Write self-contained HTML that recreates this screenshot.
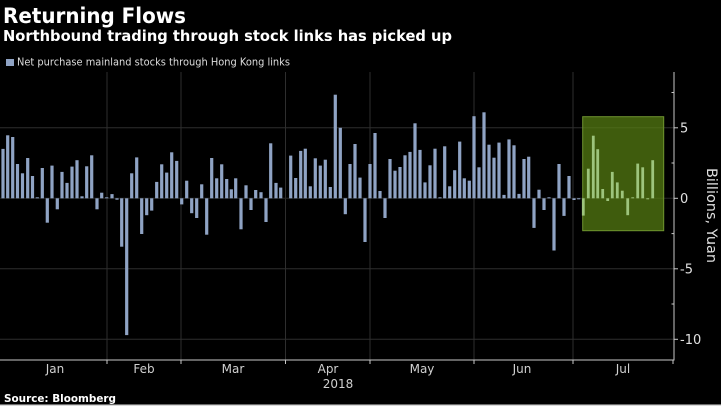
<!DOCTYPE html>
<html><head><meta charset="utf-8"><style>
html,body{margin:0;padding:0;background:#000;}
svg{display:block;}
</style></head><body>
<svg width="721" height="406" viewBox="0 0 721 406" xmlns="http://www.w3.org/2000/svg">
<rect x="0" y="0" width="721" height="406" fill="#000"/>
<text x="3" y="23" font-family="DejaVu Sans, Liberation Sans, sans-serif" font-weight="bold" font-size="21" fill="#fff" textLength="183" lengthAdjust="spacingAndGlyphs">Returning Flows</text>
<text x="3" y="41" font-family="DejaVu Sans, Liberation Sans, sans-serif" font-weight="bold" font-size="15" fill="#fff" textLength="449" lengthAdjust="spacingAndGlyphs">Northbound trading through stock links has picked up</text>
<rect x="6" y="59" width="8" height="7" fill="#8fa3c4"/>
<text x="17" y="65.7" font-family="DejaVu Sans, Liberation Sans, sans-serif" font-size="10.5" fill="#ddd" textLength="273" lengthAdjust="spacingAndGlyphs">Net purchase mainland stocks through Hong Kong links</text>
<g stroke="#2e2e2e" stroke-width="1">
<line x1="0" y1="127.8" x2="674" y2="127.8"/>
<line x1="0" y1="268.8" x2="674" y2="268.8"/>
<line x1="0" y1="339.3" x2="674" y2="339.3"/>
<line x1="107" y1="72" x2="107" y2="360"/>
<line x1="181" y1="72" x2="181" y2="360"/>
<line x1="285.5" y1="72" x2="285.5" y2="360"/>
<line x1="370" y1="72" x2="370" y2="360"/>
<line x1="474" y1="72" x2="474" y2="360"/>
<line x1="573" y1="72" x2="573" y2="360"/>
</g>
<line x1="0" y1="198.3" x2="674" y2="198.3" stroke="#262626" stroke-width="1"/>
<g fill="#8fa3c4">
<rect x="1.4" y="148.9" width="3.2" height="49.4"/>
<rect x="6.1" y="135.3" width="3.2" height="63.0"/>
<rect x="11.1" y="137.0" width="3.2" height="61.3"/>
<rect x="15.9" y="164.0" width="3.2" height="34.3"/>
<rect x="20.9" y="173.3" width="3.2" height="25.0"/>
<rect x="26.1" y="158.0" width="3.2" height="40.3"/>
<rect x="30.9" y="176.0" width="3.2" height="22.3"/>
<rect x="35.7" y="197.3" width="3.2" height="1"/>
<rect x="40.7" y="168.0" width="3.2" height="30.3"/>
<rect x="45.7" y="198.3" width="3.2" height="24.4"/>
<rect x="50.4" y="165.6" width="3.2" height="32.7"/>
<rect x="55.7" y="198.3" width="3.2" height="11.0"/>
<rect x="60.4" y="171.9" width="3.2" height="26.4"/>
<rect x="65.4" y="182.9" width="3.2" height="15.4"/>
<rect x="70.4" y="166.6" width="3.2" height="31.7"/>
<rect x="75.4" y="160.2" width="3.2" height="38.1"/>
<rect x="80.4" y="196.3" width="3.2" height="2.0"/>
<rect x="85.1" y="166.3" width="3.2" height="32.0"/>
<rect x="90.1" y="155.3" width="3.2" height="43.0"/>
<rect x="95.4" y="198.3" width="3.2" height="11.0"/>
<rect x="100.1" y="192.7" width="3.2" height="5.6"/>
<rect x="105.1" y="197.3" width="3.2" height="1"/>
<rect x="110.4" y="194.1" width="3.2" height="4.2"/>
<rect x="115.4" y="198.3" width="3.2" height="1.4"/>
<rect x="120.1" y="198.3" width="3.2" height="48.4"/>
<rect x="125.1" y="198.3" width="3.2" height="136.8"/>
<rect x="130.1" y="173.3" width="3.2" height="25.0"/>
<rect x="135.1" y="157.4" width="3.2" height="40.9"/>
<rect x="140.1" y="198.3" width="3.2" height="35.7"/>
<rect x="145.1" y="198.3" width="3.2" height="16.9"/>
<rect x="150.1" y="198.3" width="3.2" height="12.3"/>
<rect x="155.1" y="181.9" width="3.2" height="16.4"/>
<rect x="160.1" y="164.3" width="3.2" height="34.0"/>
<rect x="165.1" y="172.6" width="3.2" height="25.7"/>
<rect x="170.1" y="152.3" width="3.2" height="46.0"/>
<rect x="175.1" y="160.9" width="3.2" height="37.4"/>
<rect x="180.1" y="198.3" width="3.2" height="6.1"/>
<rect x="185.1" y="180.7" width="3.2" height="17.6"/>
<rect x="190.1" y="198.3" width="3.2" height="14.9"/>
<rect x="195.1" y="198.3" width="3.2" height="19.7"/>
<rect x="200.1" y="184.3" width="3.2" height="14.0"/>
<rect x="205.1" y="198.3" width="3.2" height="36.4"/>
<rect x="210.1" y="158.0" width="3.2" height="40.3"/>
<rect x="215.1" y="178.3" width="3.2" height="20.0"/>
<rect x="220.1" y="164.3" width="3.2" height="34.0"/>
<rect x="225.1" y="179.0" width="3.2" height="19.3"/>
<rect x="229.7" y="189.3" width="3.2" height="9.0"/>
<rect x="234.1" y="178.3" width="3.2" height="20.0"/>
<rect x="239.4" y="198.3" width="3.2" height="31.0"/>
<rect x="244.4" y="185.3" width="3.2" height="13.0"/>
<rect x="249.4" y="198.3" width="3.2" height="11.7"/>
<rect x="254.1" y="190.0" width="3.2" height="8.3"/>
<rect x="259.4" y="192.2" width="3.2" height="6.1"/>
<rect x="264.4" y="198.3" width="3.2" height="23.7"/>
<rect x="269.1" y="143.3" width="3.2" height="55.0"/>
<rect x="274.4" y="182.9" width="3.2" height="15.4"/>
<rect x="279.1" y="187.6" width="3.2" height="10.7"/>
<rect x="289.1" y="155.6" width="3.2" height="42.7"/>
<rect x="294.1" y="178.0" width="3.2" height="20.3"/>
<rect x="299.1" y="150.9" width="3.2" height="47.4"/>
<rect x="303.7" y="148.7" width="3.2" height="49.6"/>
<rect x="308.7" y="186.3" width="3.2" height="12.0"/>
<rect x="313.7" y="158.3" width="3.2" height="40.0"/>
<rect x="318.7" y="165.6" width="3.2" height="32.7"/>
<rect x="323.7" y="159.7" width="3.2" height="38.6"/>
<rect x="328.7" y="187.0" width="3.2" height="11.3"/>
<rect x="333.7" y="94.7" width="3.2" height="103.6"/>
<rect x="338.7" y="127.8" width="3.2" height="70.5"/>
<rect x="343.7" y="198.3" width="3.2" height="15.9"/>
<rect x="348.4" y="164.0" width="3.2" height="34.3"/>
<rect x="353.4" y="144.0" width="3.2" height="54.3"/>
<rect x="358.4" y="177.6" width="3.2" height="20.7"/>
<rect x="363.4" y="198.3" width="3.2" height="43.7"/>
<rect x="368.4" y="164.0" width="3.2" height="34.3"/>
<rect x="373.4" y="133.0" width="3.2" height="65.3"/>
<rect x="378.4" y="191.0" width="3.2" height="7.3"/>
<rect x="383.4" y="198.3" width="3.2" height="19.7"/>
<rect x="388.4" y="159.0" width="3.2" height="39.3"/>
<rect x="393.4" y="170.7" width="3.2" height="27.6"/>
<rect x="398.4" y="167.0" width="3.2" height="31.3"/>
<rect x="403.4" y="155.3" width="3.2" height="43.0"/>
<rect x="408.4" y="151.9" width="3.2" height="46.4"/>
<rect x="413.4" y="123.3" width="3.2" height="75.0"/>
<rect x="418.4" y="149.9" width="3.2" height="48.4"/>
<rect x="423.4" y="182.4" width="3.2" height="15.9"/>
<rect x="428.4" y="165.3" width="3.2" height="33.0"/>
<rect x="433.4" y="148.7" width="3.2" height="49.6"/>
<rect x="438.4" y="197.3" width="3.2" height="1"/>
<rect x="443.1" y="146.3" width="3.2" height="52.0"/>
<rect x="448.1" y="186.3" width="3.2" height="12.0"/>
<rect x="453.1" y="170.2" width="3.2" height="28.1"/>
<rect x="458.1" y="141.6" width="3.2" height="56.7"/>
<rect x="462.7" y="178.3" width="3.2" height="20.0"/>
<rect x="467.7" y="180.7" width="3.2" height="17.6"/>
<rect x="472.4" y="116.2" width="3.2" height="82.1"/>
<rect x="477.4" y="167.3" width="3.2" height="31.0"/>
<rect x="482.4" y="112.3" width="3.2" height="86.0"/>
<rect x="487.4" y="144.7" width="3.2" height="53.6"/>
<rect x="492.4" y="157.7" width="3.2" height="40.6"/>
<rect x="497.4" y="142.6" width="3.2" height="55.7"/>
<rect x="502.4" y="194.9" width="3.2" height="3.4"/>
<rect x="507.4" y="139.4" width="3.2" height="58.9"/>
<rect x="512.4" y="145.3" width="3.2" height="53.0"/>
<rect x="517.4" y="193.9" width="3.2" height="4.4"/>
<rect x="522.4" y="159.0" width="3.2" height="39.3"/>
<rect x="527.1" y="156.7" width="3.2" height="41.6"/>
<rect x="532.4" y="198.3" width="3.2" height="29.6"/>
<rect x="537.4" y="189.7" width="3.2" height="8.6"/>
<rect x="542.4" y="198.3" width="3.2" height="11.7"/>
<rect x="547.4" y="197.3" width="3.2" height="1"/>
<rect x="552.4" y="198.3" width="3.2" height="52.2"/>
<rect x="557.4" y="164.0" width="3.2" height="34.3"/>
<rect x="562.4" y="198.3" width="3.2" height="17.6"/>
<rect x="567.4" y="176.0" width="3.2" height="22.3"/>
<rect x="572.4" y="198.3" width="3.2" height="1.7"/>
<rect x="577.1" y="198.3" width="3.2" height="1.0"/>
</g>
<rect x="582.7" y="116.7" width="81" height="114" fill="rgba(88,128,18,0.72)" stroke="#6f9430" stroke-width="1"/>
<g fill="#9dc47c">
<rect x="581.9" y="198.3" width="2.8" height="17.3"/>
<rect x="586.9" y="168.7" width="2.8" height="29.6"/>
<rect x="591.9" y="135.7" width="2.8" height="62.6"/>
<rect x="596.3" y="149.2" width="2.8" height="49.1"/>
<rect x="601.3" y="189.0" width="2.8" height="9.3"/>
<rect x="606.3" y="198.3" width="2.8" height="2.7"/>
<rect x="610.9" y="171.9" width="2.8" height="26.4"/>
<rect x="615.9" y="182.4" width="2.8" height="15.9"/>
<rect x="620.9" y="190.7" width="2.8" height="7.6"/>
<rect x="626.3" y="198.3" width="2.8" height="16.9"/>
<rect x="631.3" y="197.3" width="2.8" height="1"/>
<rect x="636.3" y="163.6" width="2.8" height="34.7"/>
<rect x="641.3" y="167.3" width="2.8" height="31.0"/>
<rect x="646.3" y="198.3" width="2.8" height="1.0"/>
<rect x="651.3" y="160.2" width="2.8" height="38.1"/>
</g>
<g stroke="#c8c8c8" stroke-width="1">
<line x1="674" y1="72" x2="674" y2="360.5"/>
<line x1="0" y1="360" x2="674.5" y2="360"/>
<line x1="674" y1="127.8" x2="678" y2="127.8"/>
<line x1="674" y1="198.3" x2="678" y2="198.3"/>
<line x1="674" y1="268.8" x2="678" y2="268.8"/>
<line x1="674" y1="339.3" x2="678" y2="339.3"/>
<line x1="671.5" y1="92.5" x2="674" y2="92.5"/>
<line x1="671.5" y1="163" x2="674" y2="163"/>
<line x1="671.5" y1="233.6" x2="674" y2="233.6"/>
<line x1="671.5" y1="304" x2="674" y2="304"/>
<line x1="107" y1="360" x2="107" y2="364"/>
<line x1="181" y1="360" x2="181" y2="364"/>
<line x1="285.5" y1="360" x2="285.5" y2="364"/>
<line x1="370" y1="360" x2="370" y2="364"/>
<line x1="474" y1="360" x2="474" y2="364"/>
<line x1="573" y1="360" x2="573" y2="364"/>
<line x1="673" y1="360" x2="673" y2="364"/>
</g>
<g font-family="DejaVu Sans, Liberation Sans, sans-serif" font-size="13" fill="#e0e0e0">
<text x="680" y="132.5">5</text>
<text x="680" y="203">0</text>
<text x="680" y="273.5">-5</text>
<text x="680" y="344">-10</text>
</g>
<text transform="translate(711,215.5) rotate(90)" text-anchor="middle" dominant-baseline="middle" font-family="DejaVu Sans, Liberation Sans, sans-serif" font-size="14" fill="#e0e0e0" textLength="95" lengthAdjust="spacingAndGlyphs">Billions, Yuan</text>
<g font-family="DejaVu Sans, Liberation Sans, sans-serif" font-size="12" fill="#d0d0d0" text-anchor="middle">
<text x="55" y="373">Jan</text>
<text x="144" y="373">Feb</text>
<text x="233" y="373">Mar</text>
<text x="328" y="373">Apr</text>
<text x="422" y="373">May</text>
<text x="522" y="373">Jun</text>
<text x="623" y="373">Jul</text>
<text x="338" y="388">2018</text>
</g>
<text x="4" y="402" font-family="DejaVu Sans, Liberation Sans, sans-serif" font-weight="bold" font-size="11" fill="#fff" textLength="112" lengthAdjust="spacingAndGlyphs">Source: Bloomberg</text>
<rect x="0" y="404.5" width="721" height="1.5" fill="#d8d8d8"/>
</svg>
</body></html>
